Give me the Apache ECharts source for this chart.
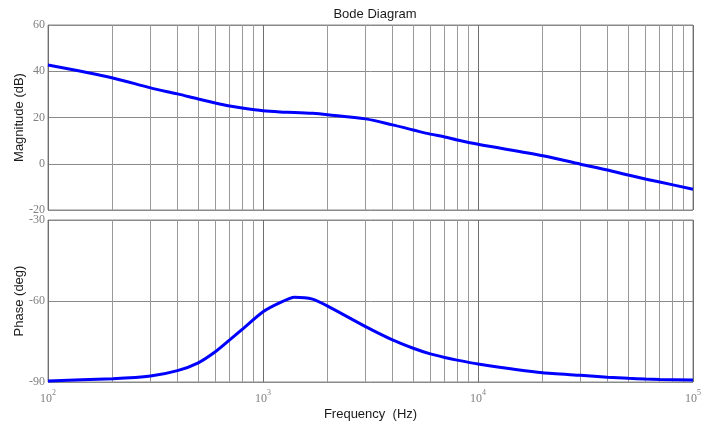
<!DOCTYPE html>
<html><head><meta charset="utf-8">
<script src="https://cdn.jsdelivr.net/npm/echarts@6/dist/echarts.min.js"></script>
<style>html,body{margin:0;padding:0;background:#fff}#c{width:715px;height:428px}</style>
</head><body><div id="c"></div>
<script>
var freq = [100,200,300,400,500,600,700,800,1000,1200,1400,1700,2000,3000,4000,5000,6000,7000,8000,10000,20000,30000,40000,50000,60000,70000,100000];
var magnitude = [42.7,37.1,32.8,30.2,28.0,26.3,25.0,24.1,22.9,22.4,22.2,21.8,21.2,19.4,16.8,14.6,12.8,11.6,10.3,8.4,3.5,-0.2,-2.7,-4.9,-6.6,-7.9,-11.0];
var phase = [-89.6,-88.8,-87.8,-85.8,-82.9,-78.8,-74.4,-70.5,-64.0,-60.6,-58.6,-59.3,-61.9,-69.5,-74.4,-77.5,-79.6,-80.9,-81.9,-83.3,-86.6,-87.5,-88.2,-88.6,-88.9,-89.1,-89.3];
var magTicks = [-20,0,20,40,60];
var phaseTicks = [-90,-60,-30];
var decades = [100,1000,10000];

var minorLines = [];
decades.forEach(function(d){ for (var k=2;k<=9;k++) minorLines.push({xAxis:d*k}); });

var tickFont = 'Liberation Serif';
var txtFont = 'Liberation Sans';
var gridColor = '#8a8a8a';
var tickColor = '#808080';

function pairs(ys){ return freq.map(function(f,i){return [f, ys[i]];}); }
function supFmt(v){
  var e = Math.round(Math.log10(v));
  return '{b|10}{s|' + e + '}';
}
var chart = echarts.init(document.getElementById('c'), null, {renderer:'canvas'});
chart.setOption({
  animation:false,
  title:{text:'Bode Diagram', left:370, textAlign:'center', top:3,
    textStyle:{fontFamily:txtFont, fontSize:13, fontWeight:'normal', color:'#1a1a1a'}},
  grid:[
    {left:48, right:22, top:25, height:185, show:true, borderColor:gridColor, borderWidth:1, backgroundColor:'#fff'},
    {left:48, right:22, top:220, height:162, show:true, borderColor:gridColor, borderWidth:1, backgroundColor:'#fff'}
  ],
  xAxis:[
    {gridIndex:0, type:'log', logBase:10, min:100, max:100000,
      axisLine:{show:false}, axisTick:{show:false}, axisLabel:{show:false},
      splitLine:{show:true, lineStyle:{color:'#6e6e6e', width:1}}},
    {gridIndex:1, type:'log', logBase:10, min:100, max:100000,
      name:'Frequency  (Hz)', nameLocation:'middle', nameGap:26, nameMoveOverlap:false,
      nameTextStyle:{fontFamily:txtFont, fontSize:13, color:'#1a1a1a'},
      axisLine:{show:false}, axisTick:{show:false},
      axisLabel:{show:true, margin:7, formatter:supFmt,
        rich:{b:{fontFamily:tickFont, fontSize:12, color:tickColor, lineHeight:16, verticalAlign:'bottom'},
              s:{fontFamily:tickFont, fontSize:8, color:tickColor, verticalAlign:'top'}}},
      splitLine:{show:true, lineStyle:{color:'#6e6e6e', width:1}}}
  ],
  yAxis:[
    {gridIndex:0, type:'value', min:magTicks[0], max:magTicks[magTicks.length-1], interval:20,
      name:'Magnitude (dB)', nameLocation:'middle', nameGap:22, nameMoveOverlap:false,
      nameTextStyle:{fontFamily:txtFont, fontSize:13, color:'#1a1a1a'},
      axisLine:{show:false}, axisTick:{show:false},
      axisLabel:{fontFamily:tickFont, fontSize:12, color:tickColor, margin:3},
      splitLine:{show:true, lineStyle:{color:gridColor, width:1}}},
    {gridIndex:1, type:'value', min:phaseTicks[0], max:phaseTicks[phaseTicks.length-1], interval:30,
      name:'Phase (deg)', nameLocation:'middle', nameGap:22, nameMoveOverlap:false,
      nameTextStyle:{fontFamily:txtFont, fontSize:13, color:'#1a1a1a'},
      axisLine:{show:false}, axisTick:{show:false},
      axisLabel:{fontFamily:tickFont, fontSize:12, color:tickColor, margin:3},
      splitLine:{show:true, lineStyle:{color:gridColor, width:1}}}
  ],
  series:[
    {type:'line', xAxisIndex:0, yAxisIndex:0, data:pairs(magnitude), showSymbol:false, smooth:0.3,
      lineStyle:{color:'#0000ff', width:3}, z:5,
      markLine:{silent:true, symbol:'none', label:{show:false}, animation:false,
        lineStyle:{color:'#999999', width:1, type:'solid'}, data:minorLines}},
    {type:'line', xAxisIndex:1, yAxisIndex:1, data:pairs(phase), showSymbol:false, smooth:0.2,
      lineStyle:{color:'#0000ff', width:3}, z:5,
      markLine:{silent:true, symbol:'none', label:{show:false}, animation:false,
        lineStyle:{color:'#999999', width:1, type:'solid'}, data:minorLines}}
  ]
});
</script></body></html>
